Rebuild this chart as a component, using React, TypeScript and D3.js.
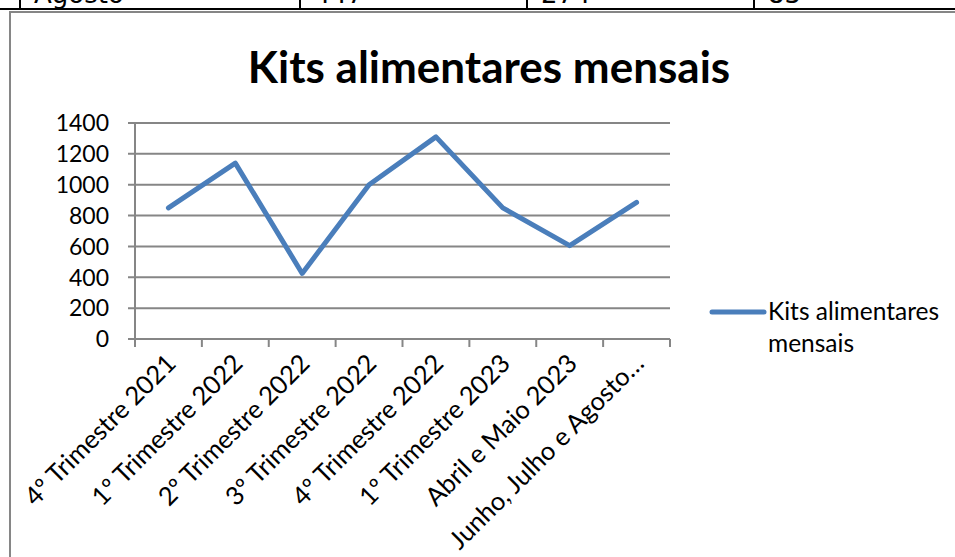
import React, { useEffect, useRef } from 'react';
import * as d3 from 'd3';

const categories = [
  '4º Trimestre 2021',
  '1º Trimestre 2022',
  '2º Trimestre 2022',
  '3º Trimestre 2022',
  '4º Trimestre 2022',
  '1º Trimestre 2023',
  'Abril e Maio 2023',
  'Junho, Julho e Agosto…',
];
const kits = [850, 1140, 425, 1000, 1310, 850, 605, 885];
const yTicks = [0, 200, 400, 600, 800, 1000, 1200, 1400];
const tableRow = ['Agosto', '447', '274', '83'];

const App = () => {
  const ref = useRef<SVGSVGElement>(null);

  useEffect(() => {
    const svg = d3.select(ref.current);
    svg.selectAll('*').remove();

    const width = 955;
    const height = 557;
    const font = 'Lato, "Open Sans", sans-serif';
    const grey = '#868686';

    svg.attr('width', width).attr('height', height);

    // piece of the table above the chart
    svg.append('line')
      .attr('x1', 0).attr('x2', width)
      .attr('y1', 9).attr('y2', 9)
      .attr('stroke', '#000').attr('stroke-width', 2);
    [20, 300, 527, 754].forEach((x, i) => {
      svg.append('line')
        .attr('x1', x).attr('x2', x)
        .attr('y1', 0).attr('y2', 9)
        .attr('stroke', '#000').attr('stroke-width', 2);
      svg.append('text')
        .attr('x', x + 14).attr('y', 3)
        .attr('font-family', '"DejaVu Sans", sans-serif')
        .attr('font-size', 26)
        .text(tableRow[i]);
    });

    // chart frame
    svg.append('rect')
      .attr('x', 10).attr('y', 12)
      .attr('width', 980).attr('height', 600)
      .attr('fill', '#fff')
      .attr('stroke', grey).attr('stroke-width', 2);

    svg.append('text')
      .attr('x', 489).attr('y', 83)
      .attr('text-anchor', 'middle')
      .attr('font-family', font)
      .attr('font-weight', 'bold')
      .attr('font-size', 44)
      .text('Kits alimentares mensais');

    const left = 135, right = 670, top = 123, bottom = 339;

    const x = d3.scaleBand().domain(categories).range([left, right]);
    const y = d3.scaleLinear().domain([0, 1400]).range([bottom, top]);

    // gridlines + y ticks
    yTicks.forEach(t => {
      svg.append('line')
        .attr('x1', left - 7).attr('x2', right)
        .attr('y1', y(t)).attr('y2', y(t))
        .attr('stroke', grey).attr('stroke-width', 2);
      svg.append('text')
        .attr('x', 109).attr('y', y(t))
        .attr('dy', '0.36em')
        .attr('text-anchor', 'end')
        .attr('font-family', font)
        .attr('font-size', 23)
        .text(t);
    });

    // axes
    svg.append('line')
      .attr('x1', left).attr('x2', left)
      .attr('y1', top).attr('y2', bottom + 8)
      .attr('stroke', grey).attr('stroke-width', 2);
    categories.forEach(c => {
      const bx = x(c)! + x.bandwidth();
      svg.append('line')
        .attr('x1', bx).attr('x2', bx)
        .attr('y1', bottom).attr('y2', bottom + 8)
        .attr('stroke', grey).attr('stroke-width', 2);
      const cx = x(c)! + x.bandwidth() / 2;
      svg.append('text')
        .attr('transform', `translate(${cx + 9},${bottom + 26}) rotate(-45)`)
        .attr('text-anchor', 'end')
        .attr('font-family', font)
        .attr('font-size', 25.5)
        .text(c);
    });

    const line = d3.line<number>()
      .x((_, i) => x(categories[i])! + x.bandwidth() / 2)
      .y(d => y(d));

    svg.append('path')
      .datum(kits)
      .attr('d', line)
      .attr('fill', 'none')
      .attr('stroke', '#4a7ebb')
      .attr('stroke-width', 5)
      .attr('stroke-linecap', 'round')
      .attr('stroke-linejoin', 'round');

    // legend
    svg.append('line')
      .attr('x1', 712).attr('x2', 764)
      .attr('y1', 312).attr('y2', 312)
      .attr('stroke', '#4a7ebb').attr('stroke-width', 5)
      .attr('stroke-linecap', 'round');
    const lg = svg.append('text')
      .attr('font-family', font)
      .attr('font-size', 24.5);
    lg.append('tspan').attr('x', 768).attr('y', 320).text('Kits alimentares');
    lg.append('tspan').attr('x', 768).attr('y', 352).text('mensais');
  }, []);

  return <svg ref={ref} style={{ position: 'absolute', left: 0, top: 0 }}></svg>;
};

export default App;
